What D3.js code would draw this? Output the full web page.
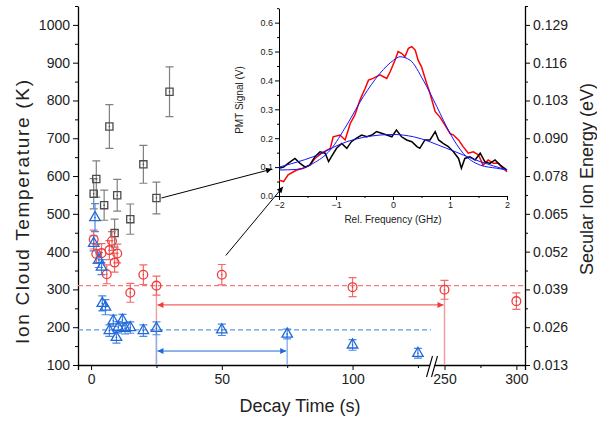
<!DOCTYPE html>
<html lang="en">
<head>
<meta charset="UTF-8">
<title>Ion cloud temperature</title>
<script src="https://d3js.org/d3.v7.min.js"></script>
<style>
    body { margin: 0; background: #fff; }
    text { font-family: 'Liberation Sans', Arial, sans-serif; fill: #222; }
</style>
</head>
<body>
<script>
    const width = 597;
    const height = 423;

    // main data: [decay time (s), temperature (K), error (K)]
    const graySquares = [
        [1, 553, 40], [2, 592, 48], [5, 523, 40], [7, 731, 58], [9, 449, 37],
        [10, 549, 42], [15, 486, 40], [20, 631, 50], [25, 542, 42], [30, 823, 66]
    ];
    const redCircles = [
        [1, 432, 25], [2, 394, 25], [4, 396, 25], [6, 340, 25], [7, 404, 25],
        [8, 428, 25], [9, 371, 25], [10, 395, 25], [15, 291, 25], [20, 339, 26],
        [25, 310, 25], [50, 339, 27], [100, 306, 25], [250, 299, 25], [300, 269, 22]
    ];
    const blueTriangles = [
        [1, 422, 20], [1.5, 490, 37], [3, 378, 20], [4, 359, 20], [4.3, 263, 20],
        [5.5, 253, 20], [7, 191, 15], [8.5, 217, 15], [9.7, 173, 15], [10.4, 200, 15],
        [12, 219, 15], [13, 197, 15], [15, 199, 15], [20, 191, 15], [25, 197, 17],
        [50, 193, 15], [75, 182, 13], [100, 153, 14], [125, 131, 13]
    ];
    const redMean = 310;
    const blueMean = 193;
    const redSpan = [25, 250];   // arrow span, red series
    const blueSpan = [25, 75];   // arrow span, blue series
    const redArrowT = 259;
    const blueArrowT = 137;

    const xMajor = [0, 50, 100, 250, 300];
    const xMinor = [25, 75, 125, 275];
    const yMajor = [100, 200, 300, 400, 500, 600, 700, 800, 900, 1000];
    const yMinor = [150, 250, 350, 450, 550, 650, 750, 850, 950, 1050];
    const energyLabels = ['0.013', '0.026', '0.039', '0.052', '0.065', '0.078', '0.090', '0.103', '0.116', '0.129'];

    // inset data: [rel. frequency (GHz), PMT signal (V)]
    const redTrace = [
        [-2, 0.055], [-1.92, 0.05], [-1.84, 0.073], [-1.69, 0.09], [-1.57, 0.096], [-1.46, 0.107],
        [-1.37, 0.13], [-1.25, 0.148], [-1.1, 0.165], [-1.05, 0.205], [-0.93, 0.211], [-0.84, 0.194],
        [-0.75, 0.251], [-0.67, 0.28], [-0.58, 0.332], [-0.49, 0.372], [-0.43, 0.401], [-0.35, 0.407],
        [-0.23, 0.419], [-0.11, 0.407], [-0.05, 0.43], [0.035, 0.47], [0.09, 0.5], [0.15, 0.494],
        [0.21, 0.482], [0.27, 0.511], [0.33, 0.517], [0.39, 0.505], [0.44, 0.47], [0.5, 0.447],
        [0.59, 0.39], [0.65, 0.355], [0.74, 0.292], [0.82, 0.274], [0.91, 0.246], [1.0, 0.217],
        [1.06, 0.211], [1.15, 0.194], [1.23, 0.171], [1.32, 0.148], [1.41, 0.153], [1.5, 0.142],
        [1.58, 0.107], [1.67, 0.125], [1.76, 0.113], [1.85, 0.113], [1.91, 0.1], [2.0, 0.084]
    ];
    const blackTrace = [
        [-2, 0.096], [-1.92, 0.1], [-1.84, 0.113], [-1.72, 0.13], [-1.63, 0.113], [-1.54, 0.1],
        [-1.46, 0.107], [-1.37, 0.136], [-1.28, 0.153], [-1.19, 0.148], [-1.13, 0.119], [-1.08, 0.136],
        [-0.99, 0.165], [-0.9, 0.182], [-0.81, 0.165], [-0.73, 0.188], [-0.64, 0.2], [-0.55, 0.211],
        [-0.46, 0.205], [-0.37, 0.211], [-0.29, 0.223], [-0.2, 0.217], [-0.11, 0.211], [-0.02, 0.205],
        [0.06, 0.228], [0.15, 0.205], [0.24, 0.194], [0.33, 0.188], [0.42, 0.171], [0.47, 0.165],
        [0.56, 0.194], [0.65, 0.194], [0.74, 0.223], [0.8, 0.194], [0.88, 0.182], [0.97, 0.171],
        [1.06, 0.153], [1.15, 0.13], [1.2, 0.096], [1.26, 0.13], [1.35, 0.136], [1.44, 0.125],
        [1.53, 0.148], [1.61, 0.119], [1.7, 0.113], [1.79, 0.125], [1.88, 0.107], [2.0, 0.09]
    ];
    const redFit = [
        [-2, 0.09], [-1.69, 0.092], [-1.4, 0.113], [-1.1, 0.159], [-0.81, 0.246], [-0.52, 0.344],
        [-0.23, 0.424], [0.01, 0.47], [0.12, 0.482], [0.3, 0.47], [0.53, 0.401], [0.77, 0.309],
        [1.0, 0.217], [1.23, 0.148], [1.53, 0.107], [1.82, 0.096], [2.0, 0.09]
    ];
    const blackFit = [
        [-2, 0.1], [-1.4, 0.136], [-0.81, 0.188], [-0.23, 0.211], [0.0, 0.213], [0.36, 0.205],
        [0.94, 0.165], [1.53, 0.119], [2.0, 0.09]
    ];

    const red = '#ef3b3b', redLight = '#f47c7c';
    const blue = '#2169d8', blueLight = '#5f98e8';
    const gray = '#4d4d4d';

    const svg = d3.select('body').append('svg').attr('width', width).attr('height', height);

    // broken x axis: two linear pieces joined at the break
    const x = d3.scaleLinear().domain([-5, 130, 242, 306]).range([78, 431, 433, 525]);
    const y = d3.scaleLinear().domain([100, 1050]).range([365, 6]);

    // ---- axes ----
    function axisFont(g, size) {
        g.selectAll('text').style('font-size', size + 'px').attr('fill', '#222');
        g.selectAll('line, path').attr('stroke', '#000');
    }

    const gx = svg.append('g').attr('transform', 'translate(0,' + y(100) + ')');
    gx.call(d3.axisBottom(x).tickValues(xMajor).tickSize(5).tickPadding(4).tickFormat(d3.format('d')));
    gx.append('g').call(d3.axisBottom(x).tickValues(xMinor).tickSize(3).tickFormat(''))
        .select('.domain').remove();
    axisFont(gx, 14);
    gx.select('.domain').attr('stroke-width', 1.3);

    const gy = svg.append('g').attr('transform', 'translate(' + x.range()[0] + ',0)');
    gy.call(d3.axisLeft(y).tickValues(yMajor).tickSize(5).tickPadding(3).tickSizeOuter(0)
        .tickFormat(d3.format('d')));
    gy.append('g').call(d3.axisLeft(y).tickValues(yMinor).tickSize(3).tickFormat(''))
        .select('.domain').remove();
    axisFont(gy, 14);
    gy.select('.domain').attr('stroke-width', 1.3);

    const gr = svg.append('g').attr('transform', 'translate(525,0)');
    gr.call(d3.axisRight(y).tickValues(yMajor).tickSize(5).tickPadding(3).tickSizeOuter(0)
        .tickFormat((d, i) => energyLabels[i]));
    gr.append('g').call(d3.axisRight(y).tickValues(yMinor).tickSize(3).tickFormat(''))
        .select('.domain').remove();
    axisFont(gr, 14);
    gr.select('.domain').attr('stroke-width', 1.3);

    // axis break marks
    const bx = (x(130) + x(242)) / 2, by = y(100);
    svg.append('path')
        .attr('d', 'M' + (bx - 4.5) + ',' + (by + 12) + 'L' + (bx + 0.5) + ',' + (by - 9) +
                   'L' + (bx + 4.5) + ',' + (by - 9) + 'L' + (bx - 0.5) + ',' + (by + 12) + 'Z')
        .attr('fill', '#fff');
    [-2.5, 2.5].forEach(o => {
        svg.append('line')
            .attr('x1', bx + o - 3).attr('y1', by + 12)
            .attr('x2', bx + o + 3).attr('y2', by - 9)
            .attr('stroke', '#000').attr('stroke-width', 1.1);
    });

    // axis titles
    svg.append('text').text('Decay Time (s)')
        .attr('x', 300).attr('y', 412).attr('text-anchor', 'middle').style('font-size', '18px');
    svg.append('text').text('Ion Cloud Temperature (K)')
        .attr('transform', 'translate(29,212) rotate(-90)')
        .attr('text-anchor', 'middle').style('font-size', '19px')
        .attr('textLength', 264).attr('lengthAdjust', 'spacing');
    svg.append('text').text('Secular Ion Energy (eV)')
        .attr('transform', 'translate(593,179) rotate(-90)')
        .attr('text-anchor', 'middle').style('font-size', '18px');

    // ---- guide lines ----
    svg.append('line')
        .attr('x1', x(-5)).attr('x2', x(306)).attr('y1', y(redMean)).attr('y2', y(redMean))
        .attr('stroke', redLight).attr('stroke-width', 1.3).attr('stroke-dasharray', '5,3');
    svg.append('line')
        .attr('x1', x(-5)).attr('x2', x(130)).attr('y1', y(blueMean)).attr('y2', y(blueMean))
        .attr('stroke', blueLight).attr('stroke-width', 1.3).attr('stroke-dasharray', '5,3');

    const defs = svg.append('defs');
    function arrowMarker(id, color, w, h) {
        defs.append('marker').attr('id', id)
            .attr('viewBox', '0 0 10 10').attr('refX', 10).attr('refY', 5)
            .attr('markerWidth', w).attr('markerHeight', h).attr('markerUnits', 'userSpaceOnUse')
            .attr('orient', 'auto-start-reverse')
            .append('path').attr('d', 'M0,0L10,5L0,10Z').attr('fill', color);
    }
    arrowMarker('arR', red, 10, 6);
    arrowMarker('arB', blue, 10, 6);
    arrowMarker('arK', '#000', 9, 6);

    function span(t, pts, temp, color, lineColor, marker) {
        t.forEach(tt => {
            const p = pts.find(d => d[0] === tt);
            svg.append('line')
                .attr('x1', x(tt)).attr('x2', x(tt)).attr('y1', y(p[1])).attr('y2', y(100))
                .attr('stroke', lineColor).attr('stroke-width', 1.4);
        });
        svg.append('line')
            .attr('x1', x(t[0]) + 1).attr('x2', x(t[1]) - 1).attr('y1', y(temp)).attr('y2', y(temp))
            .attr('stroke', color).attr('stroke-width', 1)
            .attr('marker-start', 'url(#' + marker + ')').attr('marker-end', 'url(#' + marker + ')');
    }
    span(redSpan, redCircles, redArrowT, red, '#f59a9a', 'arR');
    span(blueSpan, blueTriangles, blueArrowT, blue, '#86b1ee', 'arB');

    // ---- error bars and markers ----
    function errorBars(data, color) {
        const g = svg.append('g').attr('stroke', color).attr('stroke-width', 1.2).attr('fill', 'none');
        data.forEach(d => {
            const cx = x(d[0]), t = y(d[1] + d[2]), b = y(d[1] - d[2]);
            g.append('path').attr('d', 'M' + cx + ',' + t + 'V' + b +
                'M' + (cx - 4) + ',' + t + 'H' + (cx + 4) + 'M' + (cx - 4) + ',' + b + 'H' + (cx + 4));
        });
    }
    errorBars(graySquares, '#808080');
    errorBars(redCircles, '#f26a6a');
    errorBars(blueTriangles, '#4c88e4');

    function markers(data, type, size, color) {
        const sym = d3.symbol().type(type).size(size);
        const g = svg.append('g');
        g.selectAll('.m').data(data).enter().append('path')
            .attr('d', sym).attr('fill', 'none').attr('stroke', color).attr('stroke-width', 1.3)
            .attr('transform', d => 'translate(' + [x(d[0]), y(d[1])] + ')');
        g.selectAll('.dot').data(data).enter().append('circle')
            .attr('cx', d => x(d[0])).attr('cy', d => y(d[1])).attr('r', 0.8).attr('fill', color);
    }
    markers(graySquares, d3.symbolSquare, 52, gray);
    markers(redCircles, d3.symbolCircle, 60, red);
    markers(blueTriangles, d3.symbolTriangle, 48, blue);

    // ---- inset ----
    const ix = d3.scaleLinear().domain([-2, 2]).range([279, 507]);
    const iy = d3.scaleLinear().domain([0, 0.65]).range([196, 8.2]);

    const igx = svg.append('g').attr('transform', 'translate(0,196)');
    igx.call(d3.axisBottom(ix).tickValues([-2, -1, 0, 1, 2]).tickSize(4).tickPadding(2)
        .tickSizeOuter(0).tickFormat(d3.format('d')));
    igx.append('g').call(d3.axisBottom(ix).tickValues([-1.5, -0.5, 0.5, 1.5]).tickSize(2).tickFormat(''))
        .select('.domain').remove();
    axisFont(igx, 9);

    const igy = svg.append('g').attr('transform', 'translate(279,0)');
    igy.call(d3.axisLeft(iy).tickValues([0, 0.1, 0.2, 0.3, 0.4, 0.5, 0.6]).tickSize(4).tickPadding(2)
        .tickSizeOuter(0).tickFormat(d3.format('.1f')));
    igy.append('g').call(d3.axisLeft(iy).tickValues([0.05, 0.15, 0.25, 0.35, 0.45, 0.55, 0.65])
        .tickSize(2).tickFormat('')).select('.domain').remove();
    axisFont(igy, 9);

    svg.append('text').text('PMT Signal (V)')
        .attr('transform', 'translate(243,100) rotate(-90)')
        .attr('text-anchor', 'middle').style('font-size', '10px');
    svg.append('text').text('Rel. Frequency (GHz)')
        .attr('x', 393).attr('y', 223).attr('text-anchor', 'middle').style('font-size', '10px');

    const trace = d3.line().x(d => ix(d[0])).y(d => iy(d[1]));
    const fit = d3.line().x(d => ix(d[0])).y(d => iy(d[1])).curve(d3.curveMonotoneX);

    svg.append('path').attr('d', trace(redTrace)).attr('fill', 'none')
        .attr('stroke', '#ff0000').attr('stroke-width', 1.5);
    svg.append('path').attr('d', trace(blackTrace)).attr('fill', 'none')
        .attr('stroke', '#000').attr('stroke-width', 1.5);
    svg.append('path').attr('d', fit(redFit)).attr('fill', 'none')
        .attr('stroke', '#1515ff').attr('stroke-width', 1);
    svg.append('path').attr('d', fit(blackFit)).attr('fill', 'none')
        .attr('stroke', '#1515ff').attr('stroke-width', 1);

    // pointers from data points to the inset traces
    const g25 = graySquares.find(d => d[0] === 25);
    svg.append('line')
        .attr('x1', x(25) + 5).attr('y1', y(g25[1]))
        .attr('x2', ix(-2) - 7).attr('y2', iy(0.1) + 2)
        .attr('stroke', '#000').attr('stroke-width', 1).attr('marker-end', 'url(#arK)');
    const r50 = redCircles.find(d => d[0] === 50);
    svg.append('line')
        .attr('x1', x(50) + 4).attr('y1', y(r50[1] + r50[2]) - 9)
        .attr('x2', ix(-1.93)).attr('y2', iy(0.032))
        .attr('stroke', '#000').attr('stroke-width', 1).attr('marker-end', 'url(#arK)');
</script>
</body>
</html>
